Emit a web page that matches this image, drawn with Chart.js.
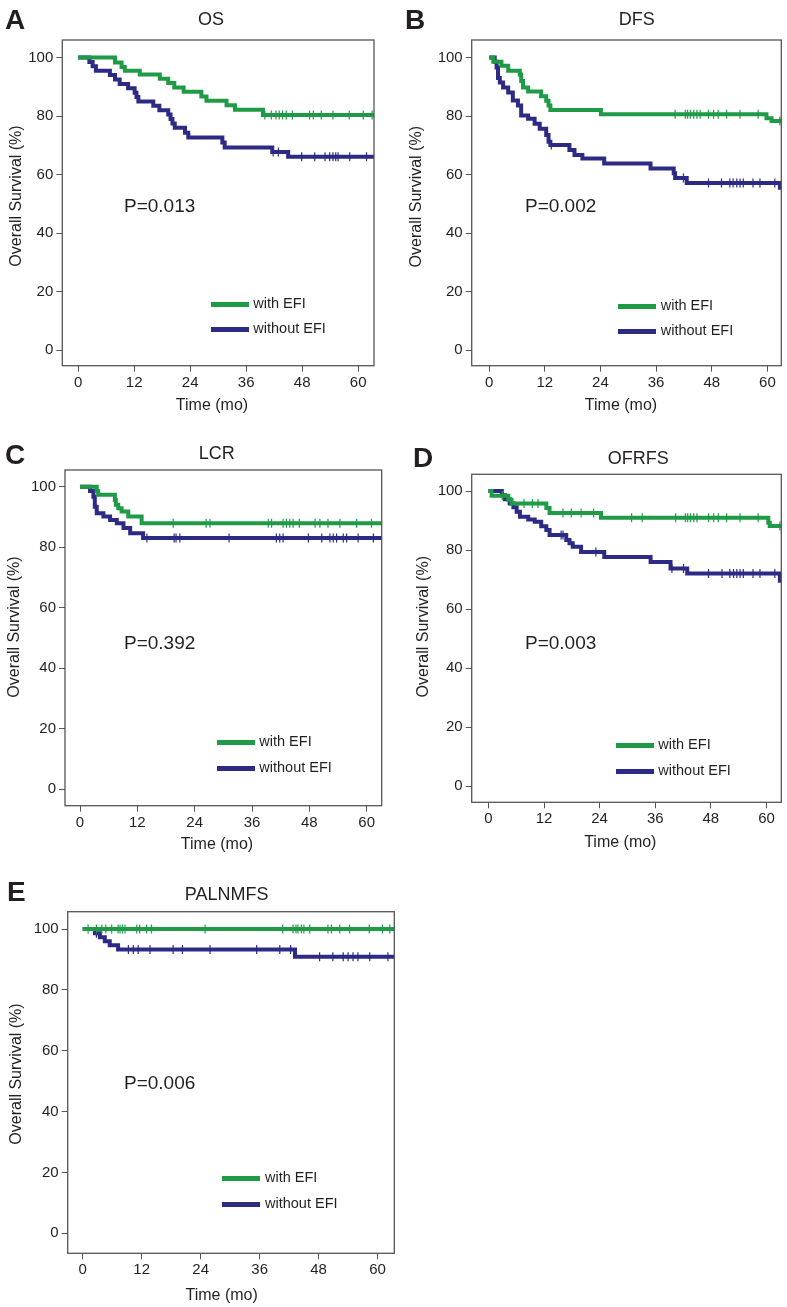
<!DOCTYPE html>
<html>
<head>
<meta charset="utf-8">
<script src="https://cdn.jsdelivr.net/npm/chart.js@4/dist/chart.umd.min.js"></script>
<style>
  html, body { margin: 0; padding: 0; background: #ffffff; }
  body { position: relative; width: 787px; height: 1307px; overflow: hidden; font-family: "Liberation Sans", Arial, sans-serif; color: #231f20; }
  .abs { position: absolute; white-space: nowrap; line-height: 1; }
  .letter { font-weight: bold; font-size: 28px; color: #231f20; }
  .ptitle { font-size: 18px; transform: translate(-50%, -50%); }
  .pval { font-size: 19px; transform: translateY(-50%); }
  .legtxt { font-size: 14.5px; transform: translateY(-50%); }
  .legline { position: absolute; height: 5px; width: 38px; }
  .wrap { position: absolute; }
</style>
</head>
<body>
<script>
// ---------------- DATA ----------------
const monthTicks = [0, 12, 24, 36, 48, 60];
const survTicks = [0, 20, 40, 60, 80, 100];
const seriesNames = ['with EFI', 'without EFI'];
const panelTitles = ['OS', 'DFS', 'LCR', 'OFRFS', 'PALNMFS'];
const panelLetters = ['A', 'B', 'C', 'D', 'E'];
const pValues = ['P=0.013', 'P=0.002', 'P=0.392', 'P=0.003', 'P=0.006'];
const xAxisTitle = 'Time (mo)';
const yAxisTitle = 'Overall Survival (%)';

// A: OS
const osWithTime = [0, 7.9, 9.3, 10.0, 13.2, 17.5, 19.3, 20.6, 22.6, 26.4, 27.5, 31.8, 33.6, 39.6];
const osWithSurv = [100, 98.3, 96.8, 95.5, 94.2, 92.8, 91.3, 89.8, 88.3, 86.7, 85.2, 83.7, 82.2, 80.4];
const osWithCensor = [40.0, 41.4, 42.4, 43.1, 43.8, 44.6, 45.9, 49.6, 50.4, 52.1, 54.6, 58.1, 61.1, 63.0];
const osWithoutTime = [0, 2.4, 3.1, 3.8, 6.8, 7.9, 8.9, 10.7, 12.1, 12.5, 12.9, 16.1, 17.4, 19.3, 19.8, 20.2, 20.7, 22.9, 23.6, 30.9, 31.4, 41.6, 45.0];
const osWithoutSurv = [100, 98.5, 97.0, 95.5, 94.0, 92.5, 91.0, 89.5, 88.0, 86.5, 85.0, 83.5, 82.0, 80.5, 79.0, 77.5, 76.0, 74.3, 72.7, 71.0, 69.3, 67.7, 66.1];
const osWithoutCensor = [41.8, 42.9, 47.9, 50.7, 52.9, 53.9, 54.6, 55.2, 55.7, 58.2, 61.8];

// B: DFS
const dfsWithTime = [0, 0.9, 2.65, 4.1, 6.6, 6.9, 7.3, 8.4, 11.2, 12.3, 12.8, 13.2, 24.1, 59.8, 60.9];
const dfsWithSurv = [100, 98.6, 97.2, 95.5, 94.2, 92.0, 89.8, 88.4, 86.8, 85.2, 83.6, 82.1, 80.6, 79.3, 78.3];
const dfsWithCensor = [40.1, 42.3, 42.8, 43.4, 44.1, 44.8, 45.5, 47.3, 48.4, 49.4, 51.2, 54.1, 58.0, 62.7];
const dfsWithoutTime = [0, 1.2, 1.6, 1.9, 2.3, 3.0, 4.1, 5.1, 6.2, 6.9, 8.4, 9.8, 10.9, 12.3, 12.8, 13.2, 17.3, 18.4, 20.1, 24.8, 34.8, 39.8, 40.1, 42.6, 62.7];
const dfsWithoutSurv = [100, 98.6, 96.6, 93.0, 91.5, 89.8, 88.1, 85.3, 83.6, 80.2, 79.1, 77.4, 75.7, 73.5, 71.2, 70.1, 68.4, 66.7, 65.5, 63.8, 62.1, 60.5, 58.8, 57.1, 55.5];
const dfsWithoutCensor = [13.4, 41.9, 47.3, 50.1, 51.9, 52.6, 53.4, 54.1, 54.8, 56.9, 58.4, 61.6];

// C: LCR
const lcrWithTime = [0, 3.5, 3.8, 7.3, 7.5, 8.0, 8.7, 10.1, 12.9];
const lcrWithSurv = [100, 98.6, 97.3, 95.6, 94.0, 92.9, 91.8, 90.1, 87.9];
const lcrWithCensor = [19.5, 26.4, 27.2, 39.4, 40.1, 42.5, 43.2, 43.9, 44.6, 45.9, 49.2, 50.2, 51.9, 54.4, 57.9, 61.0];
const lcrWithoutTime = [0, 2.1, 2.8, 3.1, 3.5, 4.9, 6.3, 7.7, 9.1, 10.5, 13.2];
const lcrWithoutSurv = [100, 98.6, 96.7, 93.4, 91.2, 90.1, 89.0, 87.9, 86.3, 84.6, 83.0];
const lcrWithoutCensor = [14.0, 19.7, 20.1, 20.9, 31.2, 41.1, 41.8, 42.5, 47.8, 50.6, 52.3, 53.0, 53.7, 55.1, 55.8, 58.2, 61.4];

// D: OFRFS
const ofrfsWithTime = [0, 0.7, 4.3, 5.0, 12.5, 13.2, 24.3, 60.4, 60.7];
const ofrfsWithSurv = [100, 98.4, 97.1, 95.8, 94.3, 92.6, 91.0, 89.3, 88.2];
const ofrfsWithCensor = [3.0, 7.7, 9.5, 10.7, 16.1, 17.9, 20.0, 22.7, 30.9, 33.2, 40.4, 42.5, 43.0, 43.6, 44.3, 45.0, 47.5, 48.6, 49.6, 51.4, 54.3, 58.2, 62.9];
const ofrfsWithoutTime = [0, 2.9, 3.6, 4.6, 5.4, 6.1, 6.8, 8.6, 10.0, 11.4, 12.5, 13.2, 16.8, 17.5, 18.2, 20.0, 25.0, 35.0, 39.3, 42.9, 62.9];
const ofrfsWithoutSurv = [100, 98.6, 97.2, 95.8, 94.5, 93.0, 91.3, 90.4, 89.6, 88.1, 86.8, 85.1, 83.4, 82.3, 81.1, 79.4, 77.7, 76.0, 73.8, 72.1, 69.6];
const ofrfsWithoutCensor = [15.7, 16.1, 23.2, 39.6, 42.1, 47.5, 50.4, 52.1, 52.9, 53.6, 54.3, 55.0, 57.1, 58.6, 61.8];

// E: PALNMFS
const palWithTime = [0];
const palWithSurv = [100];
const palWithCensor = [1.1, 2.8, 3.9, 4.7, 5.9, 7.2, 7.6, 8.1, 8.6, 11.0, 11.6, 13.0, 14.0, 24.9, 40.7, 42.8, 43.4, 43.8, 44.5, 45.0, 46.2, 49.9, 50.6, 52.3, 54.3, 58.3, 61.0, 62.5];
const palWithoutTime = [0, 2.5, 3.5, 4.5, 5.5, 7.2, 43.2];
const palWithoutSurv = [100, 98.6, 97.3, 96.0, 94.7, 93.3, 90.9];
const palWithoutCensor = [2.8, 9.3, 10.3, 11.3, 13.7, 18.4, 20.3, 25.9, 35.4, 40.1, 42.3, 48.2, 50.9, 53.0, 54.0, 55.0, 56.0, 58.4, 62.1];

// ---------------- STYLE / LAYOUT ----------------
const GREEN = '#1f9a47';
const NAVY = '#2d2a86';
const TEXT = '#231f20';
const AXIS = '#555555';
const FONT = '"Liberation Sans", Arial, sans-serif';

const panels = [
  { title: 0, canvas: {x: 0, y: 28, w: 392, h: 400}, box: {l: 62.3, t: 37.7, r: 374, b: 365.7},
    xr: [-3.4, 63.4], yr: [-5.3, 106], yTitle: [16.3, 196], xTitle: [212, 405.7],
    with: [osWithTime, osWithSurv, osWithCensor], without: [osWithoutTime, osWithoutSurv, osWithoutCensor],
    letter: [5, 10], head: [211, 19], p: [124, 205], leg: [210.7, 304, 329, 253.3] },
  { title: 1, canvas: {x: 396, y: 28, w: 391, h: 400}, box: {l: 471.7, t: 37.7, r: 783.3, b: 365.7},
    xr: [-3.77, 63.0], yr: [-5.3, 106], yTitle: [416.7, 196.7], xTitle: [621, 405.7],
    with: [dfsWithTime, dfsWithSurv, dfsWithCensor], without: [dfsWithoutTime, dfsWithoutSurv, dfsWithoutCensor],
    letter: [405, 10], head: [636.7, 19], p: [525, 205], leg: [617.7, 306, 331.7, 660.7] },
  { title: 2, canvas: {x: 0, y: 440, w: 392, h: 420}, box: {l: 65, t: 470, r: 381.7, b: 805.7},
    xr: [-3.14, 63.14], yr: [-5.4, 105.5], yTitle: [15, 627], xTitle: [217, 845],
    with: [lcrWithTime, lcrWithSurv, lcrWithCensor], without: [lcrWithoutTime, lcrWithoutSurv, lcrWithoutCensor],
    letter: [5, 445], head: [216.7, 452.5], p: [124, 641.7], leg: [216.7, 742.7, 768.3, 259.3] },
  { title: 3, canvas: {x: 396, y: 440, w: 391, h: 420}, box: {l: 471.7, t: 474.3, r: 783.3, b: 802.3},
    xr: [-3.6, 63.2], yr: [-5.5, 105.7], yTitle: [423.3, 626.7], xTitle: [620.3, 842.5],
    with: [ofrfsWithTime, ofrfsWithSurv, ofrfsWithCensor], without: [ofrfsWithoutTime, ofrfsWithoutSurv, ofrfsWithoutCensor],
    letter: [413, 447.7], head: [638.3, 457.5], p: [525, 641.7], leg: [615.7, 745.7, 771.7, 658.3] },
  { title: 4, canvas: {x: 0, y: 870, w: 400, h: 437}, box: {l: 67.7, t: 911.7, r: 394.3, b: 1253.3},
    xr: [-3.05, 63.4], yr: [-6.6, 105.7], yTitle: [16.7, 1074], xTitle: [221.7, 1295.7],
    with: [palWithTime, palWithSurv, palWithCensor], without: [palWithoutTime, palWithoutSurv, palWithoutCensor],
    letter: [7, 881.7], head: [226.7, 894], p: [124, 1081.7], leg: [222.3, 1178.3, 1204, 265] }
];

// KM curve value at a time (step function lookup)
function survAt(times, surv, t) {
  let v = surv[0];
  for (let i = 0; i < times.length; i++) { if (times[i] <= t) v = surv[i]; }
  return v;
}

const boxPlugin = {
  id: 'kmBox',
  afterDraw(chart, args, opts) {
    const {ctx, chartArea: a} = chart;
    ctx.save();
    ctx.strokeStyle = AXIS;
    ctx.lineWidth = 1.3;
    ctx.strokeRect(a.left, a.top, a.right - a.left, a.bottom - a.top);
    // axis titles
    ctx.fillStyle = TEXT;
    ctx.font = '16px ' + FONT;
    ctx.textAlign = 'center';
    ctx.textBaseline = 'middle';
    ctx.fillText(opts.xText, opts.xPos[0], opts.xPos[1]);
    ctx.translate(opts.yPos[0], opts.yPos[1]);
    ctx.rotate(-Math.PI / 2);
    ctx.fillText(opts.yText, 0, 0);
    ctx.restore();
  }
};

function addText(cls, txt, x, y) {
  const d = document.createElement('div');
  d.className = 'abs ' + cls;
  d.textContent = txt;
  d.style.left = x + 'px';
  d.style.top = y + 'px';
  document.body.appendChild(d);
  return d;
}

panels.forEach((P) => {
  const c = P.canvas, b = P.box;
  const wrap = document.createElement('div');
  wrap.className = 'wrap';
  wrap.style.left = c.x + 'px';
  wrap.style.top = c.y + 'px';
  wrap.style.width = c.w + 'px';
  wrap.style.height = c.h + 'px';
  const cv = document.createElement('canvas');
  cv.width = c.w; cv.height = c.h;
  cv.style.width = c.w + 'px'; cv.style.height = c.h + 'px';
  wrap.appendChild(cv);
  document.body.appendChild(wrap);

  const yW = 40, xH = 30;
  const xMax = P.xr[1];

  function curve(arr) {
    const [t, s] = arr;
    const pts = t.map((tt, i) => ({x: tt, y: s[i]}));
    pts.push({x: xMax, y: s[s.length - 1]});
    return pts;
  }
  function censor(arr) {
    const [t, s, cens] = arr;
    return cens.map(ct => ({x: ct, y: survAt(t, s, ct)}));
  }

  const tickFont = {family: FONT, size: 15};

  new Chart(cv, {
    type: 'line',
    data: {
      datasets: [
        { label: seriesNames[0] + ' censored', data: censor(P.with), showLine: false, pointStyle: 'line', rotation: 90,
          pointRadius: 4.5, pointBorderWidth: 1.2, borderColor: GREEN, backgroundColor: GREEN, order: 0 },
        { label: seriesNames[0], data: curve(P.with), stepped: true, borderColor: GREEN, borderWidth: 4,
          pointRadius: 0, fill: false, borderJoinStyle: 'miter', borderCapStyle: 'butt', order: 1 },
        { label: seriesNames[1] + ' censored', data: censor(P.without), showLine: false, pointStyle: 'line', rotation: 90,
          pointRadius: 4.5, pointBorderWidth: 1.2, borderColor: NAVY, backgroundColor: NAVY, order: 2 },
        { label: seriesNames[1], data: curve(P.without), stepped: true, borderColor: NAVY, borderWidth: 4,
          pointRadius: 0, fill: false, borderJoinStyle: 'miter', borderCapStyle: 'butt', order: 3 }
      ]
    },
    options: {
      responsive: false,
      animation: false,
      events: [],
      layout: { padding: { left: b.l - c.x - yW, top: b.t - c.y, right: c.x + c.w - b.r, bottom: c.y + c.h - b.b - xH } },
      plugins: {
        legend: { display: false },
        tooltip: { enabled: false },
        kmBox: { xText: xAxisTitle, yText: yAxisTitle,
                 xPos: [P.xTitle[0] - c.x, P.xTitle[1] - c.y], yPos: [P.yTitle[0] - c.x, P.yTitle[1] - c.y] }
      },
      scales: {
        x: {
          type: 'linear', min: P.xr[0], max: P.xr[1],
          afterBuildTicks: s => { s.ticks = monthTicks.map(v => ({value: v})); },
          afterFit: s => { s.height = xH; },
          grid: { display: true, drawOnChartArea: false, drawTicks: true, tickLength: 6, tickColor: AXIS, tickWidth: 1 },
          border: { display: false },
          ticks: { padding: 2, font: tickFont, color: TEXT, maxRotation: 0, autoSkip: false }
        },
        y: {
          type: 'linear', min: P.yr[0], max: P.yr[1],
          afterBuildTicks: s => { s.ticks = survTicks.map(v => ({value: v})); },
          afterFit: s => { s.width = yW; },
          grid: { display: true, drawOnChartArea: false, drawTicks: true, tickLength: 6, tickColor: AXIS, tickWidth: 1 },
          border: { display: false },
          ticks: { padding: 3, font: tickFont, color: TEXT, autoSkip: false }
        }
      }
    },
    plugins: [boxPlugin]
  });

  // HTML annotations
  addText('letter', panelLetters[P.title], P.letter[0], P.letter[1] - 0.13 * 28);
  addText('ptitle', panelTitles[P.title], P.head[0], P.head[1]);
  addText('pval', pValues[P.title], P.p[0], P.p[1]);
  const [lx, ly1, ly2, tx] = P.leg;
  [[ly1, GREEN, seriesNames[0]], [ly2, NAVY, seriesNames[1]]].forEach(([ly, col, name]) => {
    const ln = document.createElement('div');
    ln.className = 'legline';
    ln.style.left = lx + 'px';
    ln.style.top = (ly - 2.5) + 'px';
    ln.style.background = col;
    document.body.appendChild(ln);
    addText('legtxt', name, tx, ly - 1.5);
  });
});
</script>
</body>
</html>
